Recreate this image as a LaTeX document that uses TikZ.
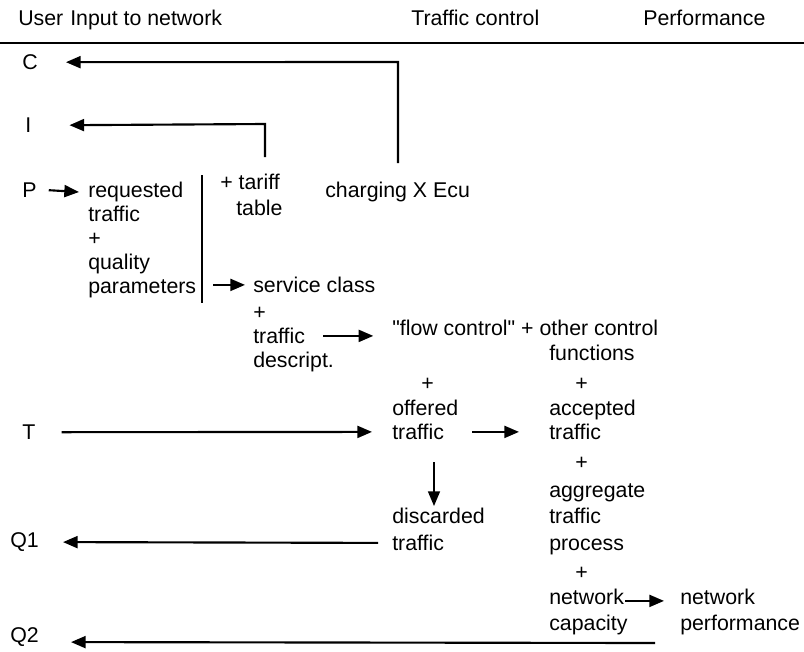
\documentclass[tikz,border=0pt]{standalone}
\usepackage{fontspec}
\setmainfont{Liberation Sans}[Ligatures=TeXOff]
\usetikzlibrary{arrows.meta,calc}
\begin{document}
\begin{tikzpicture}[x=0.75pt,y=-0.75pt,
  lbl/.style={anchor=mid west,inner sep=0pt,yshift=-3pt,font=\fontsize{16}{19}\selectfont},
  arr/.style={line width=1.6pt,-{Triangle[length=11pt,width=9pt]}},
  ln/.style={line width=1.6pt}]
\useasboundingbox (0,0) rectangle (804,651);
% header
\node[lbl] (hU) at (18,18) {User};
\node[lbl] (hI) at (70,18) {Input to network};
\node[lbl] (hT) at (411,18) {Traffic control};
\node[lbl] (hP) at (643,18) {Performance};
\coordinate (ruleL) at (0,43);
\coordinate (ruleR) at (804,43);
\draw[line width=1.8pt] (ruleL) -- (ruleR);
% user letters
\node[lbl] (C) at (22,62) {C};
\node[lbl] (I) at (25,125) {I};
\node[lbl] (P) at (22,190) {P};
\node[lbl] (T) at (22,432) {T};
\node[lbl] (Q1) at (10,540) {Q1};
\node[lbl] (Q2) at (10,635) {Q2};
% input column
\node[lbl] (req1) at (88,190) {requested};
\node[lbl] (req2) at (88,214) {traffic};
\node[lbl] (req3) at (88,238) {+};
\node[lbl] (req4) at (88,262) {quality};
\node[lbl] (req5) at (88,286) {parameters};
\node[lbl] (tar1) at (220,182) {+ tariff};
\node[lbl] (tar2) at (236,208) {table};
\node[lbl] (chg) at (325,190) {charging X Ecu};
\node[lbl] (sc1) at (253,285) {service class};
\node[lbl] (sc2) at (253,312) {+};
\node[lbl] (sc3) at (253,336) {traffic};
\node[lbl] (sc4) at (253,360) {descript.};
% traffic control
\node[lbl] (fc1) at (392,328) {"flow control" + other control};
\node[lbl] (fc2) at (549,353) {functions};
\node[lbl] (pl1) at (421,383) {+};
\node[lbl] (pl2) at (575,383) {+};
\node[lbl] (of1) at (392,408) {offered};
\node[lbl] (of2) at (392,432) {traffic};
\node[lbl] (ac1) at (549,408) {accepted};
\node[lbl] (ac2) at (549,432) {traffic};
\node[lbl] (pl3) at (575,462) {+};
\node[lbl] (ag1) at (549,490) {aggregate};
\node[lbl] (ag2) at (549,516) {traffic};
\node[lbl] (ag3) at (549,543) {process};
\node[lbl] (pl4) at (575,572) {+};
\node[lbl] (nc1) at (549,597) {network};
\node[lbl] (nc2) at (549,623) {capacity};
\node[lbl] (dc1) at (392,516) {discarded};
\node[lbl] (dc2) at (392,543) {traffic};
\node[lbl] (np1) at (680,597) {network};
\node[lbl] (np2) at (680,623) {performance};
% connectors
\coordinate (cTop) at (398,62);
\coordinate (cBot) at (398,163);
\draw[arr] (cBot) -- (cTop) -- ($(C.east)+(28,0)$);
\coordinate (iTop) at (265,124);
\coordinate (iBot) at (265,157);
\draw[arr] (iBot) -- (iTop) -- ($(I.east)+(38,0)$);
\draw[arr] ($(P.east)+(12,0)$) -- ($(req1.west)+(-9,0)$);
\coordinate (barT) at (202,175);
\coordinate (barB) at (202,303);
\draw[ln] (barT) -- (barB);
\draw[arr] ($(sc1.west)+(-40,0)$) -- ($(sc1.west)+(-8,0)$);
\draw[arr] ($(sc3.east)+(18,0)$) -- ($(sc3.east)+(68,0)$);
\draw[arr] ($(T.east)+(26,0)$) -- ($(of2.west)+(-20,0)$);
\draw[arr] ($(of2.east)+(28,0)$) -- ($(ac2.west)+(-30,0)$);
\coordinate (dnT) at (434,462);
\coordinate (dnB) at (434,506);
\draw[line width=1.1pt,-{Triangle[length=11pt,width=9pt]}] (dnT) -- (dnB);
\draw[arr] ($(dc2.west)+(-14,0)$) -- ($(Q1.east)+(24,0)$);
\draw[arr] ($(nc1.east)+(1,4)$) -- ($(np1.west)+(-16,4)$);
\coordinate (q2R) at (655,643);
\draw[arr] (q2R) -- ($(Q2.east)+(32,5)$);
\end{tikzpicture}
\end{document}
